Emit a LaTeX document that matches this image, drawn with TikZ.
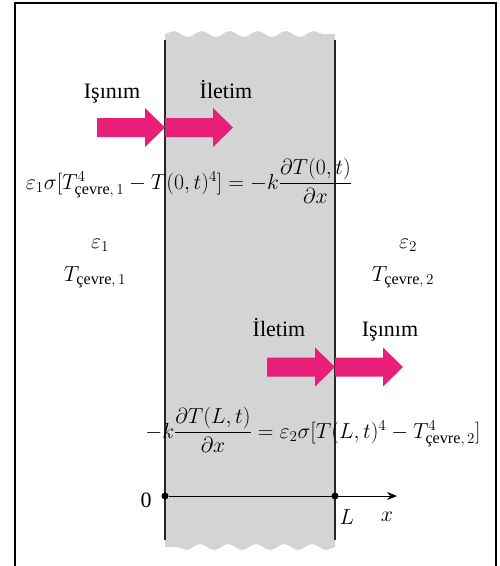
\documentclass[tikz,border=0pt]{standalone}
\usepackage{amsmath}
\usepackage{fontspec}
\setmainfont{Liberation Serif}
\usetikzlibrary{decorations.pathmorphing,arrows.meta}

\definecolor{heatpink}{RGB}{232,30,120}
\definecolor{slabgray}{RGB}{212,212,212}

\newcommand{\cevre}{\text{çevre}}

\begin{document}
\begin{tikzpicture}[
    x=1pt, y=-1pt,
    font=\fontsize{22}{26}\selectfont,
    word/.style={inner sep=0pt, anchor=base},
    formula/.style={scale=1.05},
    wall/.style={line width=1.1pt, black!85},
    dot/.style={circle, fill, inner sep=0pt, minimum size=7pt},
    wavy/.style={decorate, decoration={snake, segment length=28pt, amplitude=3pt}},
    heatarrow/.pic={
      \fill[heatpink] (0,-9.5) -- (48,-9.5) -- (48,-19.5) -- (68,0)
        -- (48,19.5) -- (48,9.5) -- (0,9.5) -- cycle;}
  ]
  \useasboundingbox (0,0) rectangle (499,566);
  \draw[line width=2.5pt] (15,3) rectangle (496,575);

  % slab
  \fill[slabgray] (165,545) -- (165,34) decorate[wavy]{-- (335,34)}
    -- (335,547) decorate[wavy]{-- (165,547)} -- cycle;
  \coordinate (w0top) at (165,40);
  \coordinate (w0bot) at (165,540);
  \coordinate (wLtop) at (335,40);
  \coordinate (wLbot) at (335,540);
  \draw[wall] (w0top) -- (w0bot);
  \draw[wall] (wLtop) -- (wLbot);

  % heat flow at x = 0
  \pic at (97,127.5) {heatarrow};
  \pic at (165,127.5) {heatarrow};
  \node[word] (isinim1) at (112,98) {Işınım};
  \node[word] (iletim1) at (226,98) {İletim};
  \node[formula] (bc1) at (189,181)
    {$\varepsilon_1\sigma[T^4_{\cevre,\,1}-T(0,t)^4]=-k\dfrac{\partial T(0,t)}{\partial x}$};

  % surroundings
  \node[formula] (eps1) at (100,245) {$\varepsilon_1$};
  \node[formula] (tsur1) at (95,277) {$T_{\cevre,\,1}$};
  \node[formula] (eps2) at (408,245) {$\varepsilon_2$};
  \node[formula] (tsur2) at (403,277) {$T_{\cevre,\,2}$};

  % heat flow at x = L
  \pic at (267,367) {heatarrow};
  \pic at (335,367) {heatarrow};
  \node[word] (iletim2) at (279,336) {İletim};
  \node[word] (isinim2) at (390,336) {Işınım};
  \node[formula] (bc2) at (313,430)
    {$-k\dfrac{\partial T(L,t)}{\partial x}=\varepsilon_2\sigma[T(L,t)^4-T^4_{\cevre,\,2}]$};

  % axis
  \node[dot] (o) at (165,496) {};
  \node[dot] (l) at (335,496) {};
  \coordinate (xend) at (397,496);
  \draw[line width=1pt, -{Stealth[length=10pt,width=8pt]}] (o) -- (xend);
  \node (zero) at (146,500) {0};
  \node[formula] (lab) at (347,517) {$L$};
  \node[formula] (xlab) at (387,517) {$x$};
\end{tikzpicture}
\end{document}
